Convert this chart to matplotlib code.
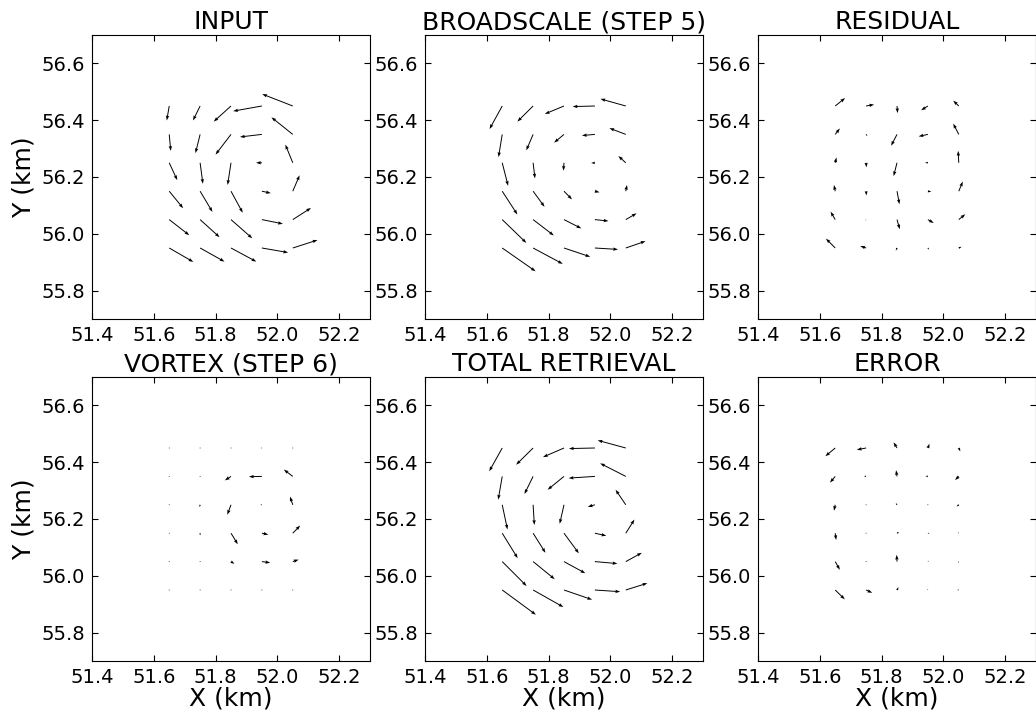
import numpy as np
import matplotlib
matplotlib.use('Agg')
from matplotlib import pyplot as plt

# grid of the retrieval points (rows listed top to bottom)
x_cols = [51.65, 51.75, 51.85, 51.95, 52.05]
y_rows = [56.45, 56.35, 56.25, 56.15, 56.05, 55.95]

titles = ['INPUT', 'BROADSCALE (STEP 5)', 'RESIDUAL',
          'VORTEX (STEP 6)', 'TOTAL RETRIEVAL', 'ERROR']

# wind components, 1 unit = 0.01 km of arrow length
u_input = [[-0.8, -2.3, -5.6, -9.3, -9.9],
           [0.5, -1.5, -5.0, -7.1, -6.9],
           [2.6, 0.9, -1.1, -1.9, -2.4],
           [4.5, 4.0, 3.8, 2.9, 2.2],
           [6.5, 6.3, 6.9, 6.8, 5.9],
           [7.8, 7.9, 8.2, 8.5, 8.0]]
v_input = [[-5.1, -5.1, -5.5, -1.8, 4.2],
           [-5.8, -6.6, -7.1, -0.9, 6.0],
           [-6.1, -7.4, -7.8, 0.0, 6.4],
           [-6.0, -7.3, -7.6, -0.7, 5.6],
           [-5.5, -6.2, -6.6, -1.5, 4.1],
           [-4.9, -4.8, -4.8, -1.6, 2.8]]

u_broad = [[-4.1, -5.1, -6.2, -7.2, -8.2],
           [-1.2, -2.2, -3.2, -4.2, -5.3],
           [1.9, 0.6, -0.2, -1.2, -2.4],
           [4.9, 3.7, 2.6, 1.5, 0.4],
           [7.8, 6.7, 5.6, 4.4, 3.5],
           [10.8, 9.6, 8.5, 7.5, 6.4]]
v_broad = [[-8.1, -5.5, -2.8, -0.2, 2.5],
           [-8.0, -5.6, -2.9, -0.4, 2.2],
           [-8.1, -5.5, -2.8, -0.1, 2.4],
           [-8.2, -5.5, -2.9, -0.4, 2.2],
           [-8.2, -5.6, -3.1, -0.5, 2.2],
           [-8.2, -5.6, -3.1, -0.5, 2.4]]

u_resid = [[3.2, 2.6, 0.2, -2.2, -1.8],
           [1.5, 0.4, -1.9, -3.0, -1.8],
           [0.4, 0.1, -1.1, -0.9, -0.2],
           [-0.4, 0.1, 0.8, 1.1, 1.3],
           [-1.5, -0.2, 0.9, 1.9, 2.1],
           [-3.0, -1.9, -0.4, 0.4, 0.9]]
v_resid = [[2.8, 0.5, -2.5, -1.5, 1.9],
           [2.1, -0.6, -4.0, -0.7, 3.8],
           [1.9, -1.6, -4.7, 0.1, 4.2],
           [2.2, -1.5, -4.6, -0.2, 3.4],
           [2.8, -0.3, -3.4, -1.2, 1.9],
           [3.3, 0.7, -0.9, -0.6, 0.4]]

u_vortex = [[0.0, 0.0, 0.2, -0.4, -0.2],
            [0.0, -0.2, -2.0, -4.2, -2.9],
            [0.0, -0.2, -1.2, -0.5, -0.9],
            [0.0, 0.0, 2.2, 2.1, 2.4],
            [0.0, 0.1, 1.1, 2.7, 1.9],
            [0.0, 0.0, 0.1, 0.2, 0.2]]
v_vortex = [[0.0, 0.0, 0.0, 0.0, 0.2],
            [0.0, 0.1, -1.4, -0.1, 2.4],
            [0.0, -0.8, -3.5, 0.0, 2.9],
            [0.0, -0.8, -3.9, -0.5, 2.7],
            [0.0, -0.2, -0.8, -0.4, 0.7],
            [0.0, 0.0, 0.0, 0.0, 0.0]]

u_total = [[-4.2, -5.5, -6.8, -8.4, -9.1],
           [-1.3, -2.8, -5.3, -8.5, -8.3],
           [1.7, 0.4, -1.4, -2.3, -3.3],
           [5.0, 4.0, 4.8, 3.7, 2.8],
           [7.9, 7.0, 6.9, 7.3, 5.2],
           [10.9, 9.8, 9.1, 8.2, 7.0]]
v_total = [[-8.2, -5.9, -3.2, -0.2, 2.7],
           [-8.2, -6.2, -4.7, -0.6, 4.6],
           [-8.7, -7.1, -6.7, -0.7, 5.3],
           [-8.8, -6.9, -7.1, -0.9, 4.8],
           [-8.6, -6.2, -4.1, -0.7, 3.1],
           [-8.7, -6.0, -3.4, -0.6, 2.4]]

u_error = [[-3.2, -3.0, -1.1, 0.5, 0.5],
           [-1.7, -0.7, -0.3, -0.8, -1.2],
           [-0.4, -0.2, -0.4, 0.0, -0.7],
           [0.3, 0.0, 0.7, 0.5, -0.3],
           [1.5, 0.3, -0.1, 0.3, -0.3],
           [3.1, 2.0, 0.5, -0.1, -0.5]]
v_error = [[-2.9, -0.6, 2.0, 1.5, -1.2],
           [-2.2, 0.1, 2.2, 0.1, -1.3],
           [-2.1, 0.1, 0.6, 0.0, -0.6],
           [-2.4, 0.0, 0.4, -0.1, 0.3],
           [-2.9, 0.0, 2.4, 0.3, -0.4],
           [-3.3, -1.0, 1.0, 0.4, 0.1]]

fields = [(u_input, v_input), (u_broad, v_broad), (u_resid, v_resid),
          (u_vortex, v_vortex), (u_total, v_total), (u_error, v_error)]

plt.rcParams['font.family'] = 'DejaVu Sans'
plt.rcParams['font.size'] = 14
plt.rcParams['xtick.direction'] = 'in'
plt.rcParams['ytick.direction'] = 'in'
plt.rcParams['xtick.top'] = True
plt.rcParams['ytick.right'] = True
plt.rcParams['xtick.major.size'] = 4
plt.rcParams['ytick.major.size'] = 4
plt.rcParams['xtick.major.pad'] = 5
plt.rcParams['ytick.major.pad'] = 5

fig = plt.figure(figsize=(10.36, 7.12), dpi=100)
W, H = 1036.0, 712.0
lefts = [92, 425, 758]
tops = [35, 377]
aw, ah = 278, 284

X, Y = np.meshgrid(x_cols, y_rows)

for k in range(6):
    r, c = k // 3, k % 3
    ax = fig.add_axes([lefts[c] / W, 1 - (tops[r] + ah) / H, aw / W, ah / H])
    u, v = fields[k]
    ax.quiver(X, Y, np.array(u), np.array(v), angles='xy', scale_units='xy',
              scale=100, pivot='tail', width=0.0035, headwidth=3.5,
              headlength=5, headaxislength=4.5, color='k')
    ax.set_xlim(51.4, 52.3)
    ax.set_ylim(55.7, 56.7)
    ax.set_xticks([51.4, 51.6, 51.8, 52.0, 52.2])
    ax.set_yticks([55.8, 56.0, 56.2, 56.4, 56.6])
    ax.set_xticklabels(['51.4', '51.6', '51.8', '52.0', '52.2'])
    ax.set_yticklabels(['55.8', '56.0', '56.2', '56.4', '56.6'])
    ax.set_title(titles[k], fontsize=18, pad=4)
    if c == 0:
        ax.set_ylabel('Y (km)', fontsize=18)
    if r == 1:
        ax.set_xlabel('X (km)', fontsize=18, labelpad=0)

fig.savefig('out.png', dpi=100)
